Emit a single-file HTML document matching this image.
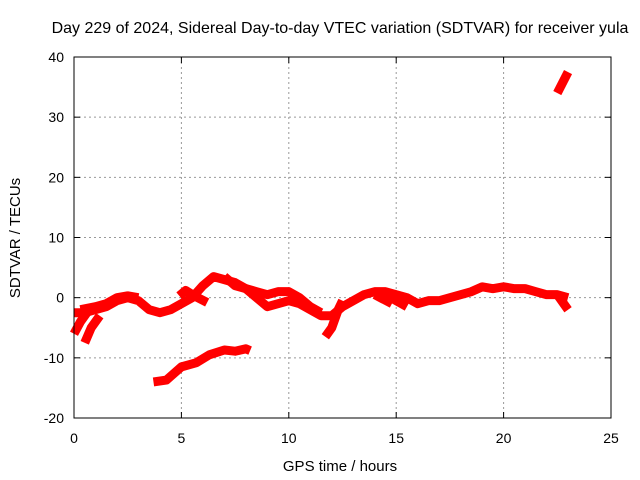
<!DOCTYPE html>
<html><head><meta charset="utf-8"><style>
body{margin:0;background:#fff;}
svg{display:block;font-family:"Liberation Sans",sans-serif;}
</style></head><body>
<svg id="c" width="640" height="480">
<text x="340" y="33" font-size="16" text-anchor="middle">Day 229 of 2024, Sidereal Day-to-day VTEC variation (SDTVAR) for receiver yula</text>
<text x="340" y="471" font-size="15" text-anchor="middle">GPS time / hours</text>
<text transform="translate(20,238) rotate(-90)" font-size="15" text-anchor="middle">SDTVAR / TECUs</text>
<g id="grid"></g><g id="data"></g>
<rect x="74" y="57" width="537" height="361" fill="none" stroke="#000" stroke-width="1"/>
</svg>
<script>
const xTicks=[0,5,10,15,20,25];
const yTicks=[-20,-10,0,10,20,30,40];
const trackMain=[[0,-2.5],[0.5,-2.5],[1,-2],[1.5,-1.5],[2,-0.5],[2.5,0],[3,-0.5],[3.5,-2],[4,-2.5],[4.5,-2],[5,-1],[5.5,0],[6,2],[6.5,3.5],[7,3],[7.5,2.5],[8,1.5],[8.5,0],[9,-1.5],[9.5,-1],[10,-0.5],[10.5,-1],[11,-2],[11.5,-3],[12,-3],[12.5,-1.5],[13,-0.5],[13.5,0.5],[14,1],[14.5,1],[15,0.5],[15.5,0],[16,-1],[16.5,-0.5],[17,-0.5],[17.5,0],[18,0.5],[18.5,1],[19,1.8],[19.5,1.5],[20,1.8],[20.5,1.5],[21,1.5],[21.5,1],[22,0.5],[22.5,0.5],[23,0]];
const trackUpper=[[7,3.5],[7.5,2],[8,1.5],[8.5,1],[9,0.5],[9.5,1],[10,1],[10.5,0],[11,-1.5],[11.5,-2.5]];
const trackSecond=[[0.3,-2],[1,-1.5],[1.5,-1],[2,0],[2.5,0.3],[3,0]];
const branchA=[[0,-6],[0.3,-4],[0.6,-2.5]];
const branchB=[[0.5,-7.5],[0.8,-5],[1.2,-3]];
const branchC=[[4.9,0.3],[5.2,1.2],[5.6,0.3],[6.2,-0.8]];
const branchD=[[11.7,-6.5],[12,-5],[12.3,-2],[12.5,-0.5]];
const branchE=[[14.5,0.5],[15.5,-1.5]];
const branchF=[[14,0.5],[14.8,-1]];
const branchG=[[22.5,0.5],[23,-2]];
const trackLower=[[3.7,-14],[4.3,-13.7],[5,-11.5],[5.7,-10.8],[6.3,-9.5],[7,-8.7],[7.5,-8.9],[8,-8.5],[8.2,-8.8]];
const trackTop=[[22.5,34],[23,37.5]];
const tracks=[trackMain,trackUpper,trackSecond,branchA,branchB,branchC,branchD,branchE,branchF,branchG,trackLower,trackTop];
const X=t=>74+t/25*537, Y=v=>418-(v+20)/60*361;
const NS='http://www.w3.org/2000/svg';
const g=document.getElementById('grid'), d=document.getElementById('data');
function mk(tag,at,par){const e=document.createElementNS(NS,tag);for(const k in at)e.setAttribute(k,at[k]);par.appendChild(e);return e;}
xTicks.forEach(t=>{
 if(t>0&&t<25){const l=mk('line',{x1:X(t),x2:X(t),y1:57,y2:418,stroke:'#999','stroke-dasharray':'2,3'},g);
 
 }
 mk('line',{x1:X(t),x2:X(t),y1:418,y2:412,stroke:'#000'},g);
 mk('line',{x1:X(t),x2:X(t),y1:57,y2:63,stroke:'#000'},g);
 const tx=mk('text',{x:X(t),y:443,'font-size':14,'text-anchor':'middle'},g);tx.textContent=t;
 
 
});
yTicks.forEach(v=>{
 if(v>-20&&v<40){const l=mk('line',{x1:74,x2:611,y1:Y(v),y2:Y(v),stroke:'#999','stroke-dasharray':'2,3'},g);
 
 }
 mk('line',{x1:74,x2:80,y1:Y(v),y2:Y(v),stroke:'#000'},g);
 mk('line',{x1:605,x2:611,y1:Y(v),y2:Y(v),stroke:'#000'},g);
 const tx=mk('text',{x:64,y:Y(v)+5,'font-size':14,'text-anchor':'end'},g);tx.textContent=v;
 
 
});
tracks.forEach(tr=>{
 const p=mk('polyline',{points:tr.map(q=>X(q[0])+','+Y(q[1])).join(' '),fill:'none',stroke:'#f00','stroke-width':9,'stroke-linejoin':'round'},d);
 
 
});
</script>
</body></html>
